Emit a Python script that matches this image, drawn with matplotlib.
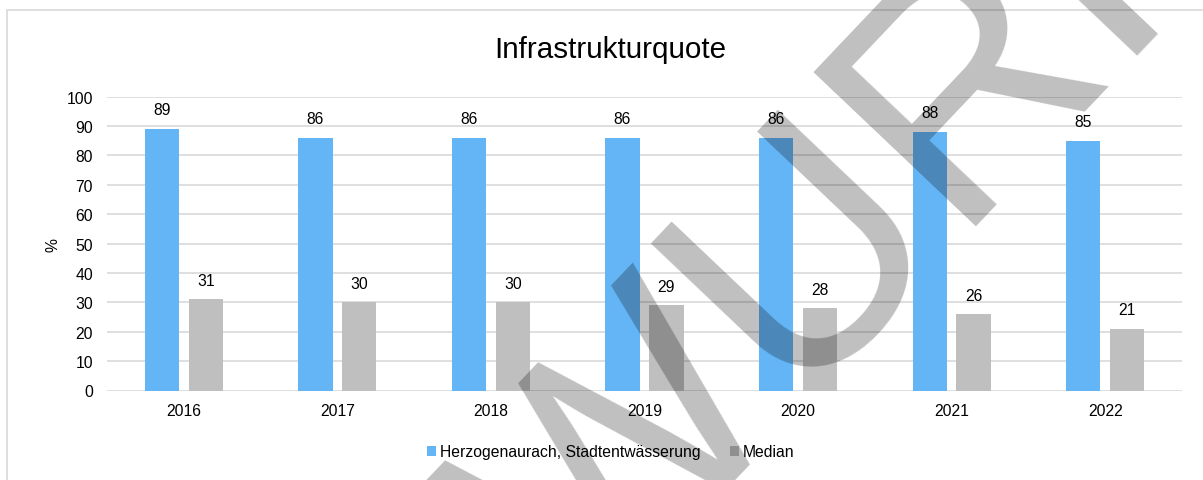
import numpy as np
import matplotlib
matplotlib.use('Agg')
from matplotlib import pyplot as plt
from matplotlib.patches import Rectangle

# Infrastrukturquote je Jahr
years = ['2016', '2017', '2018', '2019', '2020', '2021', '2022']
herzogenaurach = [89, 86, 86, 86, 86, 88, 85]
median = [31, 30, 30, 29, 28, 26, 21]
series_names = ['Herzogenaurach, Stadtentwässerung', 'Median']
yticks = list(range(0, 101, 10))

plt.rcParams['font.family'] = ['Liberation Sans', 'DejaVu Sans']

W, H = 1203, 481
fig = plt.figure(figsize=(W / 100, H / 100), dpi=100)
fig.patch.set_facecolor('white')

# Rahmen um das Diagramm
fig.patches.append(Rectangle((7 / W, -0.1), 1.2, 1 - 11 / H + 0.1, transform=fig.transFigure,
                             facecolor='none', edgecolor='#d9d9d9', linewidth=1.2))

ax = fig.add_axes([107 / W, 1 - 391.5 / H, 1075 / W, 293.8 / H])

x = np.arange(len(years))
w = 0.223
off = 0.143
b1 = ax.bar(x - off, herzogenaurach, w, color='#64B5F6', label=series_names[0], zorder=2)
b2 = ax.bar(x + off, median, w, color='#BFBFBF', label=series_names[1], zorder=2)

# Werte über den Balken
for bars, vals in ((b1, herzogenaurach), (b2, median)):
    for rect, v in zip(bars, vals):
        ax.annotate(str(v), (rect.get_x() + rect.get_width() / 2, v), xytext=(0, 10.5),
                    textcoords='offset points', ha='center', va='baseline', fontsize=11.3)

ax.set_xlim(-0.5, len(years) - 0.5)
ax.set_ylim(0, 100)
ax.set_yticks(yticks)
ax.set_xticks(x)
ax.set_xticklabels(years)
ax.yaxis.grid(True, color='#d9d9d9', linewidth=1.2, zorder=0)
ax.set_axisbelow(True)
for s in ax.spines.values():
    s.set_visible(False)
ax.tick_params(axis='y', length=0, pad=10, labelsize=11.3)
ax.tick_params(axis='x', length=0, pad=9, labelsize=11.3)
ax.set_ylabel('%', fontsize=11.3)
ax.yaxis.set_label_coords(-47 / 1075, 0.5)

fig.text(610 / W, 1 - 58 / H, 'Infrastrukturquote', ha='center', va='baseline', fontsize=21.3)

fig.legend(handles=[b1, b2], labels=series_names, loc='center', bbox_to_anchor=(611 / W, 1 - 453 / H),
           ncol=2, frameon=False, fontsize=11.3, handlelength=0.55, handleheight=0.55,
           handletextpad=0.25, columnspacing=1.9)

# Wasserzeichen
fig.text(689 / W, 1 - 501 / H, 'ENTWURF', rotation=46.5, rotation_mode='anchor',
         ha='center', va='baseline', fontsize=234,
         color='black', alpha=0.25, zorder=10)

fig.savefig('out.png', dpi=100)
